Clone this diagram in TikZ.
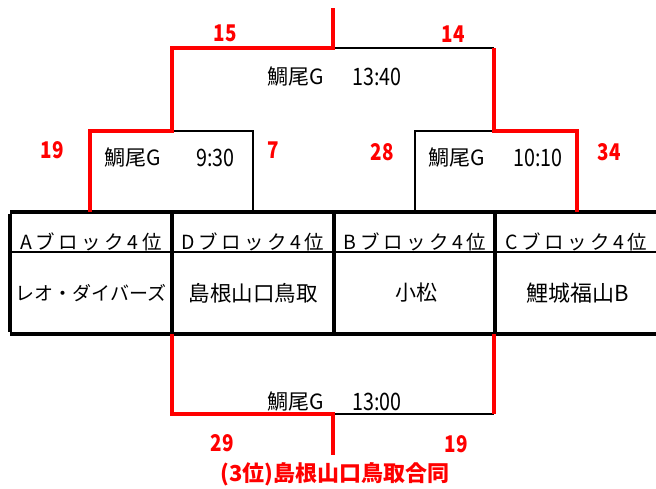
\documentclass[tikz,border=0pt]{standalone}
\usepackage{fontspec}
\usepackage{graphicx}
\setmainfont{Noto Sans CJK JP}
\newcommand{\narrow}[1]{\scalebox{0.82}[1]{#1}}
\begin{document}
\begin{tikzpicture}[x=1pt,y=-1pt,
  tblline/.style={line width=3.5pt, black},
  thinline/.style={line width=1.5pt, black},
  redline/.style={line width=4pt, red},
  lbl/.style={inner sep=0pt, font=\fontsize{21}{21}\selectfont},
  tim/.style={inner sep=0pt, font=\fontsize{24}{24}\selectfont},
  hdr/.style={inner sep=0pt, font=\fontsize{19.5}{19.5}\selectfont\addfontfeature{LetterSpace=18}},
  team/.style={inner sep=0pt, font=\fontsize{21.5}{21.5}\selectfont},
  score/.style={inner sep=0pt, text=red, font=\fontsize{23}{23}\selectfont\bfseries},
]
\useasboundingbox (0,0) rectangle (656,488);
% table
\coordinate (TL) at (10,212); \coordinate (TR) at (656,212);
\coordinate (BL) at (10,334); \coordinate (BR) at (656,334);
\coordinate (ML) at (10,252); \coordinate (MR) at (656,252);
\coordinate (V1t) at (172,212); \coordinate (V1b) at (172,334);
\coordinate (V2t) at (334,212); \coordinate (V2b) at (334,334);
\coordinate (V3t) at (495,212); \coordinate (V3b) at (495,334);
\draw[thinline] (ML) -- (MR);
\draw[tblline] (TL) -- (TR);
\draw[tblline] (BL) -- (BR);
\draw[tblline] ([yshift=-1.75pt]TL) -- ([yshift=1.75pt]BL);
\draw[tblline] (V1t) -- (V1b);
\draw[tblline] (V2t) -- (V2b);
\draw[tblline] (V3t) -- (V3b);
% bracket coordinates
\coordinate (a0) at (90,212); \coordinate (a1) at (90,131);
\coordinate (b1) at (172,131); \coordinate (b2) at (172,48);
\coordinate (c1) at (253,131); \coordinate (c0) at (253,212);
\coordinate (m1) at (333,48); \coordinate (m0) at (333,8);
\coordinate (r2) at (494,48); \coordinate (r1) at (494,131);
\coordinate (s1) at (415,131); \coordinate (s0) at (415,212);
\coordinate (t1) at (577,131); \coordinate (t0) at (577,212);
\coordinate (u0) at (172,334); \coordinate (u1) at (172,414);
\coordinate (w1) at (333,414); \coordinate (w0) at (333,455);
\coordinate (x0) at (494,334); \coordinate (x1) at (494,414);
% black bracket lines
\draw[thinline] (b1) -- (c1) -- (c0);
\draw[thinline] (m1) -- (r2);
\draw[thinline] (r1) -- (s1) -- (s0);
\draw[thinline] (w1) -- (x1);
% red winner lines
\draw[redline] (a0) -- (a1) -- (b1) -- (b2) -- (m1) -- (m0);
\draw[redline] (r2) -- (r1) -- (t1) -- (t0);
\draw[redline] (u0) -- (u1) -- (w1) -- (w0);
\draw[redline] (x0) -- (x1);
% match labels
\node[lbl, anchor=west] (g1) at (104,158) {鯛尾G};
\node[tim, anchor=east] (t1l) at (235,158) {\narrow{9:30}};
\node[lbl, anchor=west] (g2) at (267,77) {鯛尾G};
\node[tim, anchor=east] (t2l) at (402,77) {\narrow{13:40}};
\node[lbl, anchor=west] (g3) at (428,158) {鯛尾G};
\node[tim, anchor=east] (t3l) at (563,158) {\narrow{10:10}};
\node[lbl, anchor=west] (g4) at (267,402) {鯛尾G};
\node[tim, anchor=east] (t4l) at (402,402) {\narrow{13:00}};
% scores
\node[score] (s15) at (225,33) {\narrow{15}};
\node[score] (s14) at (453,34) {\narrow{14}};
\node[score] (s19a) at (52,150) {\narrow{19}};
\node[score] (s7) at (273,150) {\narrow{7}};
\node[score] (s28) at (382,152) {\narrow{28}};
\node[score] (s34) at (609,152) {\narrow{34}};
\node[score] (s29) at (222,443) {\narrow{29}};
\node[score] (s19b) at (456,444) {\narrow{19}};
\node[score, font=\fontsize{22}{22}\selectfont\bfseries] (champ) at (335,474) {(3位)島根山口鳥取合同};
% table text
\node[hdr] (h1) at (91,242) {Aブロック4位};
\node[hdr] (h2) at (253,242) {Dブロック4位};
\node[hdr] (h3) at (415,242) {Bブロック4位};
\node[hdr] (h4) at (576,242) {Cブロック4位};
\node[team, font=\fontsize{19}{19}\selectfont] (n1) at (91,293) {レオ・ダイバーズ};
\node[team] (n2) at (253,293) {島根山口鳥取};
\node[team, font=\fontsize{21}{21}\selectfont] (n3) at (416,293) {小松};
\node[team, font=\fontsize{22}{22}\selectfont] (n4) at (578,293) {鯉城福山B};
\end{tikzpicture}
\end{document}
